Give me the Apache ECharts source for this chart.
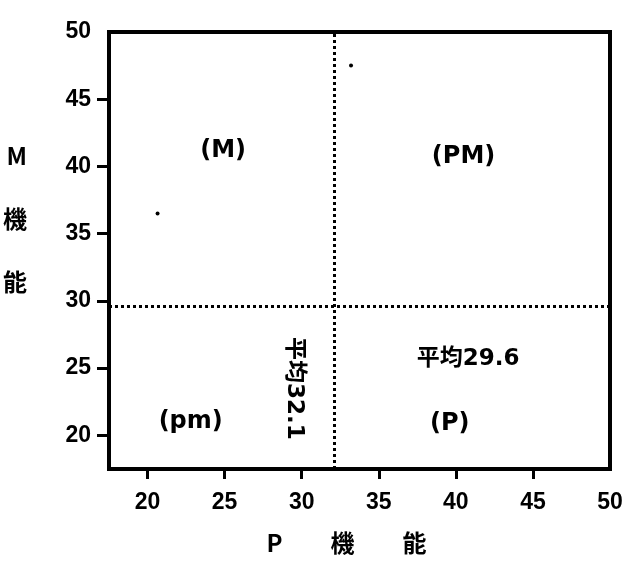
<!DOCTYPE html>
<html>
<head>
<meta charset="utf-8">
<script src="https://cdn.jsdelivr.net/npm/echarts@6/dist/echarts.min.js"></script>
<style>
  html, body { margin: 0; padding: 0; background: #fff; }
  #chart { width: 633px; height: 566px; }
</style>
</head>
<body>
<div id="chart"></div>
<script>
// ---- data ----
const xTickValues = [20, 25, 30, 35, 40, 45];
const xLabelValues = [20, 25, 30, 35, 40, 45, 50];
const yTickValues = [20, 25, 30, 35, 40, 45];
const yLabelValues = [20, 25, 30, 35, 40, 45, 50];
const pValues = [20.65, 33.2];
const mValues = [36.5, 47.5];
const meanP = 32.1;
const meanM = 29.6;
const quadrantNames = ['(M)', '(PM)', '(pm)', '(P)'];
const quadrantP = [24.9, 40.5, 22.8, 39.6];
const quadrantM = [41.2, 40.7, 21.0, 20.9];
const meanMLabel = '平均29.6';
const meanMLabelAt = [40.8, 25.7];
const meanPLabel = '平均32.1';
const meanPLabelAt = [29.5, 23.5];
const xName = 'P　　機　　能';
const yName = 'M\n機\n能\n';

// ---- chart ----
const chart = echarts.init(document.getElementById('chart'), null, { renderer: 'canvas' });
const tickFont = { color: '#000', fontFamily: 'Liberation Sans, Arial, sans-serif', fontWeight: 'bold', fontSize: 23 };
const labelFont = { color: '#000', opacity: 1, fontFamily: 'DejaVu Sans, Noto Sans CJK JP, sans-serif', fontWeight: 'bold', fontSize: 24 };
const hiddenItem = { color: 'rgba(0,0,0,0)', opacity: 1 };

const points = pValues.map((p, i) => [p, mValues[i]]);
const quadData = quadrantNames.map((n, i) => ({ value: [quadrantP[i], quadrantM[i]], name: n }));

chart.setOption({
  animation: false,
  backgroundColor: '#fff',
  grid: { left: 107, right: 23, top: 32, bottom: 97, show: true, borderColor: '#000', borderWidth: 4, backgroundColor: 'transparent' },
  xAxis: {
    type: 'value', min: 17.5, max: 50,
    name: xName, nameLocation: 'middle', nameGap: 62,
    nameTextStyle: { color: '#000', fontFamily: 'Noto Sans CJK JP, sans-serif', fontWeight: 'bold', fontSize: 24, padding: [0, 26, 0, 0] },
    axisLine: { show: true, lineStyle: { color: '#000', width: 4 } },
    axisTick: { show: true, customValues: xTickValues, length: 10, lineStyle: { color: '#000', width: 3 } },
    axisLabel: Object.assign({ customValues: xLabelValues, margin: 22 }, tickFont),
    splitLine: { show: false }
  },
  yAxis: {
    type: 'value', min: 17.5, max: 50,
    name: yName, nameLocation: 'middle', nameGap: 82, nameRotate: 0,
    nameTextStyle: { color: '#000', fontFamily: 'Noto Sans CJK JP, sans-serif', fontWeight: 'bold', fontSize: 24, lineHeight: 63 },
    axisLine: { show: true, lineStyle: { color: '#000', width: 4 } },
    axisTick: { show: true, customValues: yTickValues, length: 12, lineStyle: { color: '#000', width: 3 } },
    axisLabel: Object.assign({ customValues: yLabelValues, margin: 18 }, tickFont),
    splitLine: { show: false }
  },
  series: [
    {
      type: 'scatter', data: points, symbolSize: 4, itemStyle: { color: '#000', opacity: 1 }, silent: true,
      markLine: {
        silent: true, symbol: 'none', label: { show: false },
        lineStyle: { color: '#000', width: 3, type: 'dotted', opacity: 1 },
        data: [{ xAxis: meanP }, { yAxis: meanM }]
      }
    },
    {
      type: 'scatter', data: quadData, symbolSize: 0, itemStyle: hiddenItem, silent: true,
      label: Object.assign({ show: true, position: 'inside', formatter: p => p.name }, labelFont)
    },
    {
      type: 'scatter', data: [{ value: meanMLabelAt, name: meanMLabel }], symbolSize: 0, itemStyle: hiddenItem, silent: true,
      label: Object.assign({ show: true, position: 'inside', formatter: p => p.name }, labelFont, { fontSize: 23 })
    },
    {
      type: 'scatter', data: [{ value: meanPLabelAt, name: meanPLabel }], symbolSize: 0, itemStyle: hiddenItem, silent: true,
      label: Object.assign({ show: true, position: 'inside', rotate: -90, formatter: p => p.name }, labelFont, { fontSize: 23 })
    }
  ]
});
</script>
</body>
</html>
